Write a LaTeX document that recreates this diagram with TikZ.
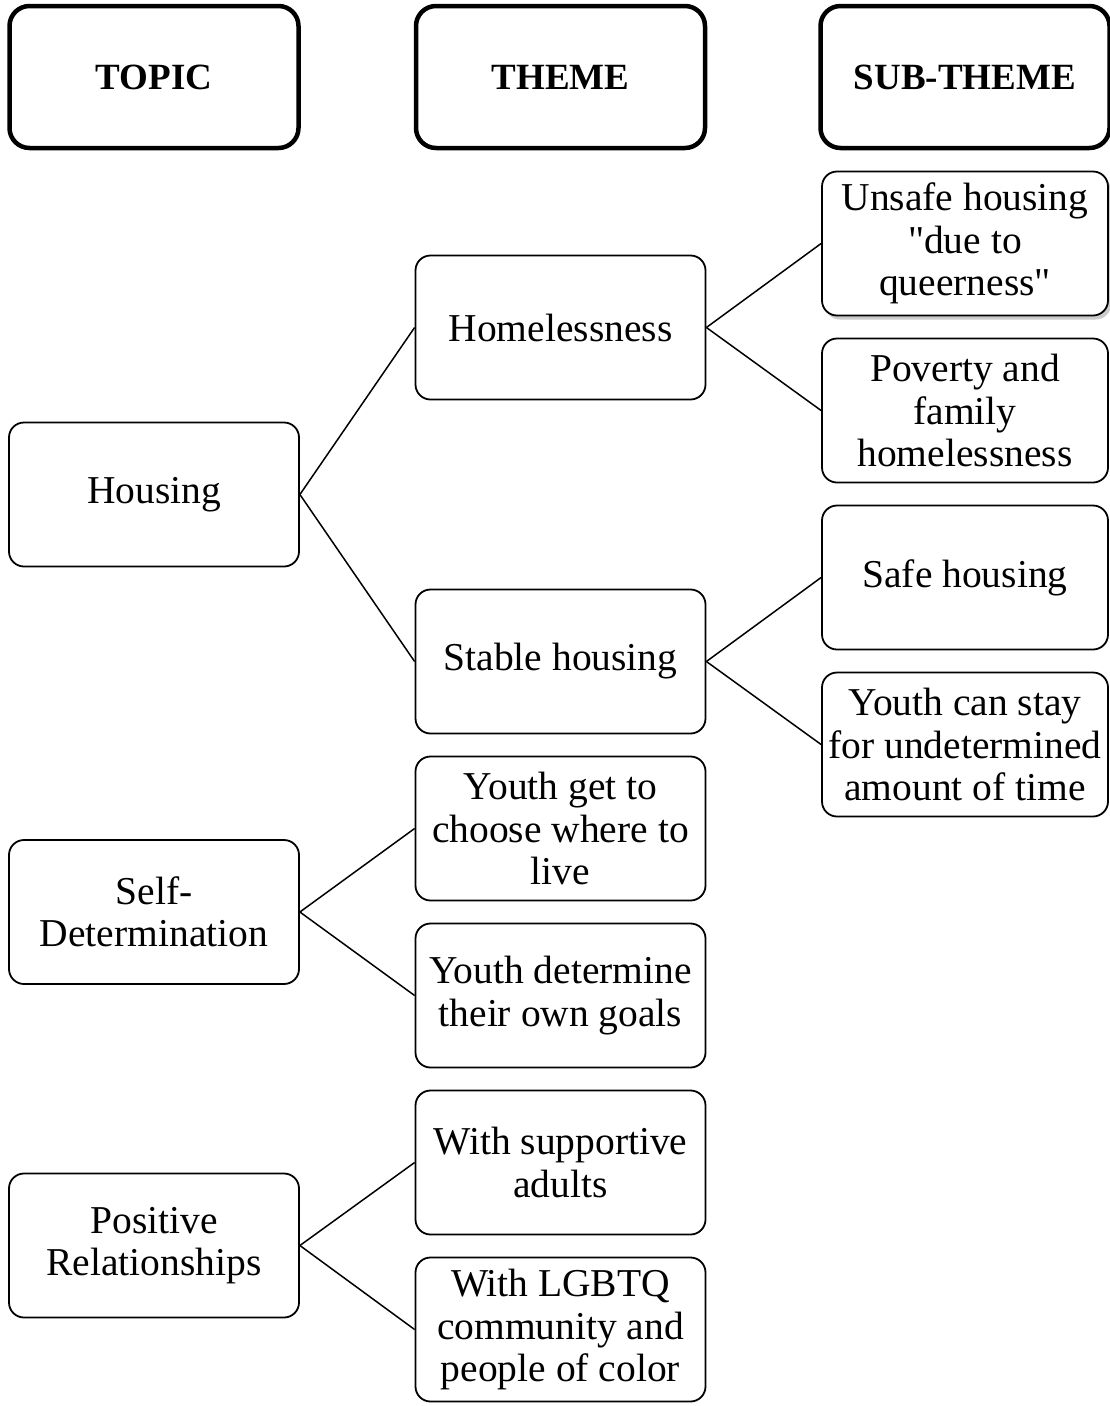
\documentclass[tikz,border=0pt]{standalone}
\usepackage{fontspec}
\setmainfont{Liberation Serif}
\usepackage{tikz}
\usetikzlibrary{shadows}
\tikzstyle{head}=[draw=black,line width=4.5pt,rounded corners=20pt,minimum width=289pt,minimum height=142pt,inner sep=0pt,font=\fontsize{37}{42}\selectfont\bfseries]
\tikzstyle{box}=[draw=black,fill=white,line width=1.8pt,rounded corners=15pt,minimum width=290pt,minimum height=144pt,inner sep=1pt,align=center,font=\fontsize{39.5}{42.5}\selectfont]
\tikzstyle{link}=[line width=1.5pt]

\begin{document}
\begin{tikzpicture}[x=1pt,y=-1pt]
        \useasboundingbox (0,0) rectangle (1110,1406);

        % column heads
        \foreach \name/\x/\txt in {topic/154/TOPIC,theme/560.5/THEME,sub/965/SUB-THEME}{
          \node[head] (\name) at (\x,77) {\txt};
        }

        % topics
        \node[box] (housing) at (154,494.5) {Housing};
        \node[box] (selfdet) at (154,912) {Self-\\Determination};
        \node[box] (posrel) at (154,1245.5) {Positive\\Relationships};

        % themes
        \node[box] (homeless) at (560.5,327.5) {Homelessness};
        \node[box] (stable) at (560.5,661.5) {Stable housing};
        \node[box] (choose) at (560.5,828.5) {Youth get to\\choose where to\\live};
        \node[box] (goals) at (560.5,995.5) {Youth determine\\their own goals};
        \node[box] (adults) at (560.5,1162.5) {With supportive\\adults};
        \node[box] (lgbtq) at (560.5,1329.5) {With LGBTQ\\community and\\people of color};

        % sub-themes
        \node[box,minimum width=286pt,drop shadow={shadow xshift=3pt,shadow yshift=-4pt,fill=black!40}] (unsafe) at (965,243.5) {Unsafe housing\\\textquotedbl due to\\queerness\textquotedbl};
        \node[box,minimum width=286pt] (poverty) at (965,410.5) {Poverty and\\family\\homelessness};
        \node[box,minimum width=286pt] (safe) at (965,577.5) {Safe housing};
        \node[box,minimum width=286pt] (stay) at (965,744.5) {Youth can stay\\for undetermined\\amount of time};

        \foreach \a/\b in {housing/homeless,housing/stable,homeless/unsafe,homeless/poverty,stable/safe,stable/stay,selfdet/choose,selfdet/goals,posrel/adults,posrel/lgbtq}{
          \draw[link] (\a.east) -- (\b.west);
        }

      \end{tikzpicture}
\end{document}
